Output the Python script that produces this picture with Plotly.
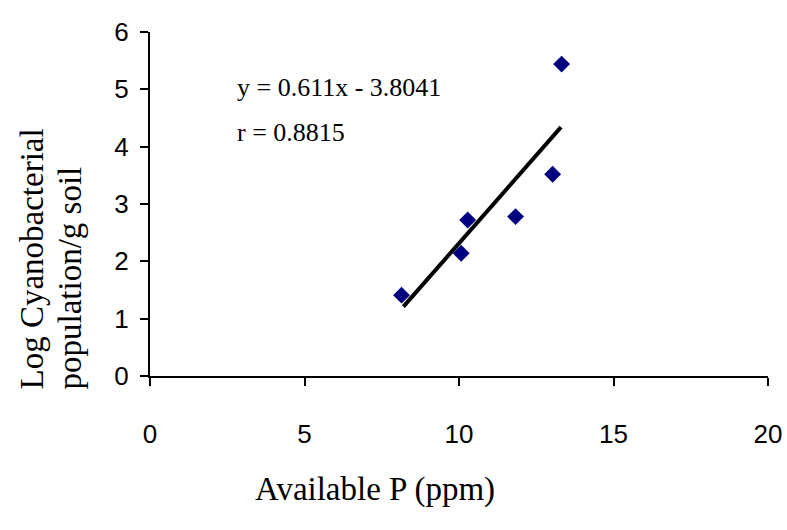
import plotly.graph_objects as go

avail_p = [8.14, 10.07, 10.28, 11.83, 13.03, 13.32]
log_cyano = [1.41, 2.14, 2.72, 2.78, 3.52, 5.44]
trend_x = [8.2, 13.3]
trend_y = [1.21, 4.34]
x_ticks = [0, 5, 10, 15, 20]
y_ticks = [0, 1, 2, 3, 4, 5, 6]

W, H = 787, 530
# plot area in page pixels: x 150..768, y 32..376
L, R, T, B = 150, W - 768, 32, H - 376
PW, PH = W - L - R, H - T - B

def px(xp):
    return (xp - L) / PW

def py(yp):
    return (H - B - yp) / PH

serif = "Liberation Serif, Times New Roman, serif"
sans = "Liberation Sans, Arial, sans-serif"

fig = go.Figure()
fig.add_trace(go.Scatter(x=trend_x, y=trend_y, mode="lines",
                         line=dict(color="black", width=4), showlegend=False))
fig.add_trace(go.Scatter(x=avail_p, y=log_cyano, mode="markers",
                         marker=dict(symbol="diamond", color="#000080", size=13,
                                     line=dict(width=0)),
                         showlegend=False))

fig.update_layout(
    width=W, height=H,
    margin=dict(l=L, r=R, t=T, b=B),
    paper_bgcolor="white", plot_bgcolor="white",
    xaxis=dict(range=[0, 20], tickvals=x_ticks, showgrid=False, zeroline=False,
               showline=True, linecolor="black", linewidth=2, automargin=False,
               ticks="outside", ticklen=8, tickwidth=2, tickcolor="black",
               ticklabelstandoff=26, ticklabeloverflow="allow",
               tickfont=dict(family=sans, size=26, color="black")),
    yaxis=dict(range=[0, 6], tickvals=y_ticks, showgrid=False, zeroline=False,
               showline=True, linecolor="black", linewidth=2, automargin=False,
               ticks="outside", ticklen=8, tickwidth=2, tickcolor="black",
               ticklabelstandoff=6,
               tickfont=dict(family=sans, size=26, color="black")),
    annotations=[
        dict(text="Available P (ppm)", xref="paper", yref="paper", x=px(375),
             y=py(489), xanchor="center", yanchor="middle", showarrow=False,
             font=dict(family=serif, size=33, color="black")),
        dict(text="Log Cyanobacterial", xref="paper", yref="paper",
             x=px(31), y=py(392), xanchor="center", yanchor="bottom",
             textangle=-90, showarrow=False,
             font=dict(family=serif, size=33, color="black")),
        dict(text="population/g soil", xref="paper", yref="paper",
             x=px(69), y=py(392), xanchor="center", yanchor="bottom",
             textangle=-90, showarrow=False,
             font=dict(family=serif, size=33, color="black")),
        dict(text="y = 0.611x - 3.8041", xref="paper", yref="paper", x=px(235),
             y=py(88), xanchor="left", yanchor="middle", showarrow=False,
             font=dict(family=serif, size=26, color="black")),
        dict(text="r = 0.8815", xref="paper", yref="paper", x=px(235),
             y=py(132), xanchor="left", yanchor="middle", showarrow=False,
             font=dict(family=serif, size=26, color="black")),
    ],
)

fig.write_html("out.html",
               config={"displayModeBar": False},
               post_script="document.body.style.margin='0';document.body.style.overflow='hidden';")
